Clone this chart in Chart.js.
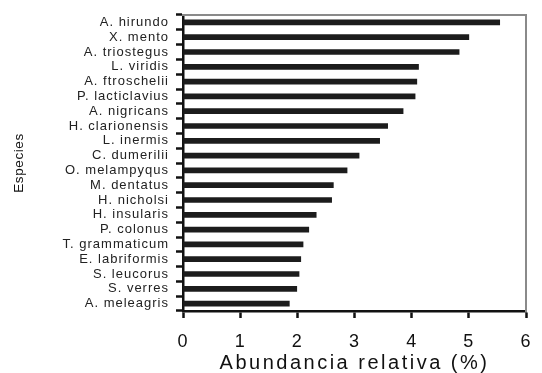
<!DOCTYPE html>
<html>
<head>
<meta charset="utf-8">
<script src="https://cdn.jsdelivr.net/npm/chart.js@4"></script>
<style>
  html, body { margin: 0; padding: 0; background: #fff; }
  #wrap { width: 542px; height: 373px; }
</style>
</head>
<body>
<div id="wrap"><canvas id="chart"></canvas></div>
<script>
// datos
const especies = [
  'A. hirundo', 'X. mento', 'A. triostegus', 'L. viridis', 'A. ftroschelii',
  'P. lacticlavius', 'A. nigricans', 'H. clarionensis', 'L. inermis', 'C. dumerilii',
  'O. melampyqus', 'M. dentatus', 'H. nicholsi', 'H. insularis', 'P. colonus',
  'T. grammaticum', 'E. labriformis', 'S. leucorus', 'S. verres', 'A. meleagris'
];
const abundancia = [
  5.54, 5.00, 4.83, 4.12, 4.09,
  4.06, 3.85, 3.58, 3.44, 3.08,
  2.87, 2.63, 2.60, 2.33, 2.20,
  2.10, 2.06, 2.03, 1.99, 1.86
];
const xMin = 0;
const xMax = 6;
const xStep = 1;

const FONT = "'Liberation Sans', Arial, Helvetica, sans-serif";

// espaciado de letras (etiquetas 1px, títulos aparte)
const titleSpacing = { x: '2.5px', y: '0.6px' };
const spacing = {
  id: 'spacing',
  beforeDraw(chart) {
    const ctx = chart.ctx;
    Object.keys(titleSpacing).forEach(id => {
      const s = chart.scales[id];
      if (s && !s._spaced) {
        const orig = s.drawTitle.bind(s);
        s.drawTitle = function() {
          ctx.letterSpacing = titleSpacing[id];
          orig();
          ctx.letterSpacing = '1px';
        };
        s._spaced = true;
      }
    });
    ctx.letterSpacing = '1px';
  },
  afterDraw(chart) {
    chart.ctx.letterSpacing = '0px';
  }
};

new Chart(document.getElementById('chart'), {
  type: 'bar',
  data: {
    labels: especies,
    datasets: [{
      data: abundancia,
      backgroundColor: '#1c1c1c',
      borderWidth: 0,
      barThickness: 5
    }]
  },
  options: {
    indexAxis: 'y',
    responsive: true,
    maintainAspectRatio: false,
    animation: false,
    layout: { padding: { top: 15, right: 16, bottom: 0, left: 0 } },
    plugins: {
      legend: { display: false },
      tooltip: { enabled: false }
    },
    scales: {
      x: {
        type: 'linear',
        position: 'bottom',
        min: xMin,
        max: xMax,
        ticks: {
          stepSize: xStep,
          color: '#111',
          padding: 7,
          font: { family: FONT, size: 18, lineHeight: 1.85 }
        },
        grid: {
          drawOnChartArea: false,
          tickLength: 7,
          tickWidth: 2.5,
          tickColor: '#111'
        },
        border: { color: '#111', width: 2.5 },
        title: {
          display: true,
          text: 'Abundancia relativa (%)',
          color: '#111',
          padding: { top: 0, bottom: 0 },
          font: { family: FONT, size: 20, lineHeight: 0.95 }
        },
        afterFit(scale) { scale.height = 62; }
      },
      y: {
        type: 'category',
        position: 'left',
        ticks: {
          autoSkip: false,
          color: '#222',
          padding: 7,
          font: { family: FONT, size: 13 }
        },
        grid: {
          offset: true,
          drawOnChartArea: false,
          tickLength: 7,
          tickWidth: 2.5,
          tickColor: '#111'
        },
        border: { color: '#111', width: 2.5 },
        title: {
          display: true,
          text: 'Especies',
          color: '#111',
          padding: { top: 11, bottom: 0 },
          font: { family: FONT, size: 13.5 }
        },
        afterFit(scale) { scale.width = 183; }
      },
      xTop: {
        type: 'linear',
        axis: 'x',
        position: 'top',
        min: xMin,
        max: xMax,
        ticks: { display: false },
        grid: { display: false, drawTicks: false },
        border: { color: '#8a8a8a', width: 2 }
      },
      yRight: {
        type: 'linear',
        axis: 'y',
        position: 'right',
        ticks: { display: false },
        grid: { display: false, drawTicks: false },
        border: { color: '#8a8a8a', width: 2 }
      }
    }
  },
  plugins: [spacing]
});
</script>
</body>
</html>
